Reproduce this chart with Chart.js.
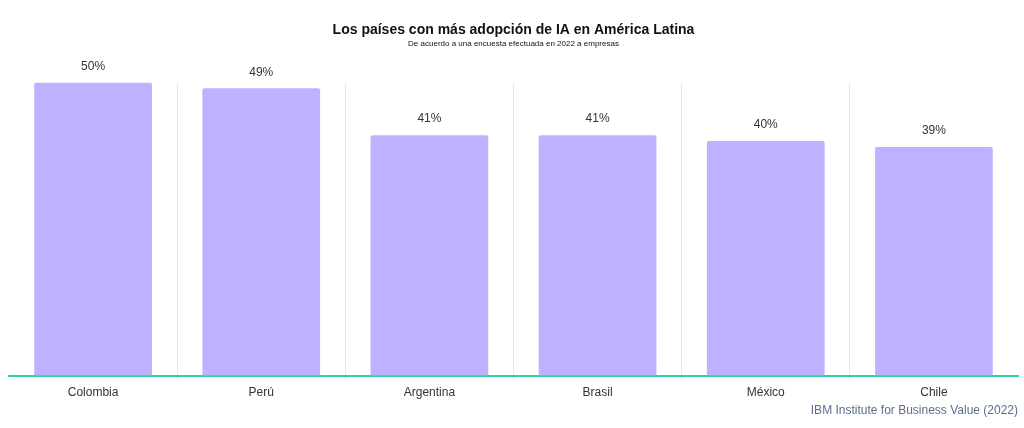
<!DOCTYPE html>
<html>
<head>
<meta charset="utf-8">
<script src="https://cdn.jsdelivr.net/npm/chart.js@4"></script>
<style>
  html, body { margin: 0; padding: 0; background: #fff; }
  #wrap { width: 1024px; height: 428px; position: relative; }
</style>
</head>
<body>
<div id="wrap"><canvas id="chart" width="1024" height="428"></canvas></div>
<script>
// Data
const countries = ['Colombia', 'Perú', 'Argentina', 'Brasil', 'México', 'Chile'];
const adoption = [50, 49, 41, 41, 40, 39];
const titleText = 'Los países con más adopción de IA en América Latina';
const subtitleText = 'De acuerdo a una encuesta efectuada en 2022 a empresas';
const sourceText = 'IBM Institute for Business Value (2022)';

// Labels on top of bars + source line
const barLabels = {
    id: 'barLabels',
    afterDatasetsDraw(chart) {
        const ctx = chart.ctx;
        const meta = chart.getDatasetMeta(0);
        ctx.save();
        ctx.font = '12px "Liberation Sans", Arial, sans-serif';
        ctx.fillStyle = '#333';
        ctx.textAlign = 'center';
        ctx.textBaseline = 'middle';
        meta.data.forEach((bar, i) => {
            ctx.fillText(adoption[i] + '%', bar.x, bar.y - 16);
        });
        ctx.restore();
    },
    afterDraw(chart) {
        const ctx = chart.ctx;
        ctx.save();
        ctx.font = '12px "Liberation Sans", Arial, sans-serif';
        ctx.fillStyle = '#5b6d8e';
        ctx.textAlign = 'right';
        ctx.textBaseline = 'middle';
        ctx.fillText(sourceText, chart.chartArea.right, 411);
        ctx.restore();
    }
};

const chart = new Chart(document.getElementById('chart'), {
    type: 'bar',
    data: {
        labels: countries,
        datasets: [{
            data: adoption,
            backgroundColor: '#bdb2ff',
            borderRadius: 2,
            borderSkipped: 'bottom',
            categoryPercentage: 0.7,
            barPercentage: 1
        }]
    },
    options: {
        responsive: false,
        animation: false,
        layout: { padding: { left: 9, right: 6, top: 0, bottom: 23 } },
        plugins: {
            legend: { display: false },
            tooltip: { enabled: false },
            title: {
                display: true,
                text: titleText,
                color: '#111',
                font: { family: '"Liberation Sans", Arial, sans-serif', size: 14, weight: 'bold' },
                padding: { top: 22, bottom: 0 }
            },
            subtitle: {
                display: true,
                text: subtitleText,
                color: '#111',
                font: { family: '"Liberation Sans", Arial, sans-serif', size: 8 },
                padding: { top: 0, bottom: 34 }
            }
        },
        scales: {
            x: {
                grid: {
                    offset: true,
                    color: (c) => (c.index === undefined || c.index === 0) ? 'rgba(0,0,0,0)' : '#e9e9e9',
                    tickLength: 5
                },
                border: { display: true, color: '#2ed3a3', width: 2 },
                ticks: {
                    color: '#333',
                    padding: 5,
                    font: { family: '"Liberation Sans", Arial, sans-serif', size: 12 }
                }
            },
            y: {
                display: false,
                min: 0,
                max: 50
            }
        }
    },
    plugins: [barLabels]
});
</script>
</body>
</html>
